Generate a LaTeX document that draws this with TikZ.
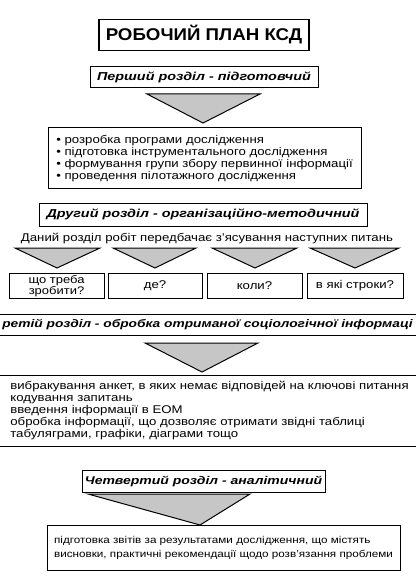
\documentclass[tikz,border=0pt]{standalone}
\usepackage{fontspec}
\setmainfont{Liberation Sans}
\newfontfamily\bodyf[FakeStretch=1.18]{Liberation Sans}
\newfontfamily\headf[FakeStretch=1.25]{Liberation Sans}
\newfontfamily\titlef[FakeStretch=1.1]{Liberation Sans}
\begin{document}
\begin{tikzpicture}[x=1pt,y=-1pt,
  box/.style={draw, line width=1pt, inner sep=0pt, align=center},
  tri/.style={draw, line width=1pt, fill=gray!45, line join=miter},
  bodytxt/.style={font=\bodyf\fontsize{11.2}{11.8}\selectfont},
  headtxt/.style={font=\headf\fontsize{11.5}{13}\selectfont\bfseries\itshape}]
\useasboundingbox (0,0) rectangle (415,585);
\fill[white] (0,0) rectangle (415,585);

\node[box, line width=1.4pt, minimum width=210, minimum height=31,
  font=\titlef\fontsize{17}{19}\selectfont\bfseries] (title) at (204,35) {РОБОЧИЙ ПЛАН КСД};

\node[box, headtxt, minimum width=228, minimum height=21] (s1) at (204,77) {Перший розділ - підготовчий};
\draw[tri] (147,94) -- (260,94) -- (203,123) -- cycle;
\node[box, bodytxt, align=left, minimum width=313, minimum height=61] (b1) at (204.5,158.5)
  {\textbullet\ розробка програми дослідження\\
   \textbullet\ підготовка інструментального дослідження\\
   \textbullet\ формування групи збору первинної інформації\\
   \textbullet\ проведення пілотажного дослідження};

\node[box, headtxt, minimum width=328, minimum height=23] (s2) at (203,214.5) {Другий розділ - організаційно-методичний};
\node[bodytxt, inner sep=0pt] (intro) at (207,239) {Даний розділ робіт передбачає з’ясування наступних питань};

\draw[tri] (15,248) -- (100,248) -- (57,268) -- cycle;
\draw[tri] (113,248) -- (196,248) -- (155,268) -- cycle;
\draw[tri] (212,248) -- (297,248) -- (255,268) -- cycle;
\draw[tri] (310,248) -- (399,248) -- (355,268) -- cycle;

\node[box, minimum width=95, minimum height=25, font=\bodyf\fontsize{11}{9.6}\selectfont] (q1) at (56.5,286) {що треба\\зробити?};
\node[box, bodytxt, minimum width=94, minimum height=25] (q2) at (155,286) {де?};
\node[box, bodytxt, minimum width=95, minimum height=25] (q3) at (254.5,286) {коли?};
\node[box, bodytxt, minimum width=96, minimum height=25] (q4) at (355,286) {в які строки?};

\node[box, minimum width=430, minimum height=21, font=\headf\fontsize{11}{13}\selectfont\bfseries\itshape] (s3) at (207.5,324.5) {ретій розділ - обробка отриманої соціологічної інформаці};
\draw[tri] (145,343) -- (258,343) -- (202,372) -- cycle;
\node[box, bodytxt, align=left, minimum width=430, minimum height=71] (b3) at (209.5,410.5)
  {вибракування анкет, в яких немає відповідей на ключові питання\\
   кодування запитань\\
   введення інформації в ЕОМ\\
   обробка інформації, що дозволяє отримати звідні таблиці\\
   табуляграми, графіки, діаграми тощо};

\node[box, minimum width=243, minimum height=22, font=\headf\fontsize{11.2}{13}\selectfont\bfseries\itshape] (s4) at (203.5,481) {Четвертий розділ - аналітичний};
\draw[tri] (88,494) -- (250,494) -- (200,525) -- cycle;
\node[box, align=left, minimum width=353, minimum height=45, font=\bodyf\fontsize{9.9}{14}\selectfont] (b5) at (223.5,547.5)
  {підготовка звітів за результатами дослідження, що містять\\
   висновки, практичні рекомендації щодо розв’язання проблеми};
\end{tikzpicture}
\end{document}
